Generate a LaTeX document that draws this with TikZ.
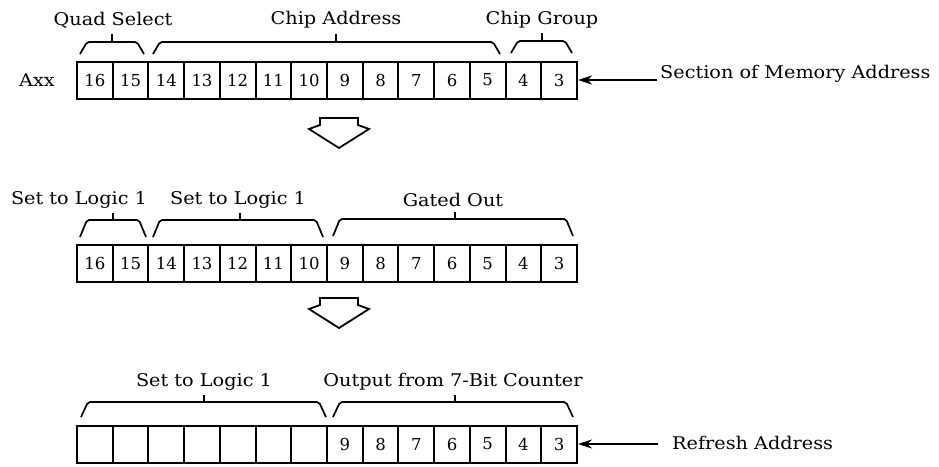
\documentclass[tikz,border=0pt]{standalone}
\usepackage{fontspec}
\setmainfont{DejaVu Serif}
\newfontfamily\lblfont{DejaVu Serif}[FakeStretch=1.1]
\usetikzlibrary{arrows.meta}
\newcommand\mybrace[6]{%
  \draw[brace] (#1,#3) -- (#1+7,#4) -- (#2-7,#4) -- (#2,#3);
  \draw[brace] (#5,#4) -- (#5,#6);}
\begin{document}
\begin{tikzpicture}[x=1pt,y=-1pt,
  cell/.style={draw,line width=2pt,minimum width=35.714pt,minimum height=37pt,inner sep=0pt,font=\fontsize{16.5}{16.5}\selectfont},
  lbl/.style={font=\lblfont\fontsize{17.5}{17.5}\selectfont,inner sep=0pt},
  brace/.style={line width=1.7pt,rounded corners=2pt},
  hollow/.style={line width=1.8pt,line join=miter},
  ptr/.style={line width=1.8pt,-{Stealth[length=14pt,width=9pt]}}]
\useasboundingbox (0,0) rectangle (939,466);
% row 1
\foreach \i [evaluate=\i as \x using 77+35.714*(\i-0.5), evaluate=\i as \n using int(17-\i)] in {1,...,14}
  \node[cell] (a\i) at (\x,80) {\n};
\node[lbl] (axx) at (37,80) {Axx};
\mybrace{80}{144}{54}{42}{112}{34}
\mybrace{153}{500}{54}{42}{336}{34}
\mybrace{511}{572}{53}{41}{542}{33}
\node[lbl] (q) at (113,20) {Quad Select};
\node[lbl] (ca) at (336,20) {Chip Address};
\node[lbl] (cg) at (542,20) {Chip Group};
\node[lbl,anchor=west] (sec) at (660,74) {Section of Memory Address};
\coordinate (s1) at (657,80);
\draw[ptr] (s1) -- (a14.east);
% arrow 1
\draw[hollow] (320,118) -- (358,118) -- (358,125) -- (369,129) -- (339,148) -- (309,129) -- (320,125) -- cycle;
% row 2
\foreach \i [evaluate=\i as \x using 77+35.714*(\i-0.5), evaluate=\i as \n using int(17-\i)] in {1,...,14}
  \node[cell] (b\i) at (\x,263.5) {\n};
\mybrace{80}{146}{237}{220}{113}{213}
\mybrace{153}{323}{237}{220}{240}{213}
\mybrace{333}{573}{236}{219}{455}{212}
\node[lbl] (s21) at (79,200) {Set to Logic 1};
\node[lbl] (s22) at (238,200) {Set to Logic 1};
\node[lbl] (go) at (453,200) {Gated Out};
% arrow 2
\draw[hollow] (320,298) -- (358,298) -- (358,305) -- (369,309) -- (339,328) -- (309,309) -- (320,305) -- cycle;
% row 3
\foreach \i [evaluate=\i as \x using 77+35.714*(\i-0.5)] in {1,...,7}
  \node[cell] (c\i) at (\x,444) {};
\foreach \i [evaluate=\i as \x using 77+35.714*(\i-0.5), evaluate=\i as \n using int(17-\i)] in {8,...,14}
  \node[cell] (c\i) at (\x,444) {\n};
\mybrace{81}{326}{417}{402}{204}{395}
\mybrace{333}{573}{417}{402}{455}{395}
\node[lbl] (s31) at (204,382) {Set to Logic 1};
\node[lbl] (oc) at (453,382) {Output from 7-Bit Counter};
\node[lbl,anchor=west] (ref) at (672,443) {Refresh Address};
\coordinate (s3) at (658,444);
\draw[ptr] (s3) -- (c14.east);
\end{tikzpicture}
\end{document}
